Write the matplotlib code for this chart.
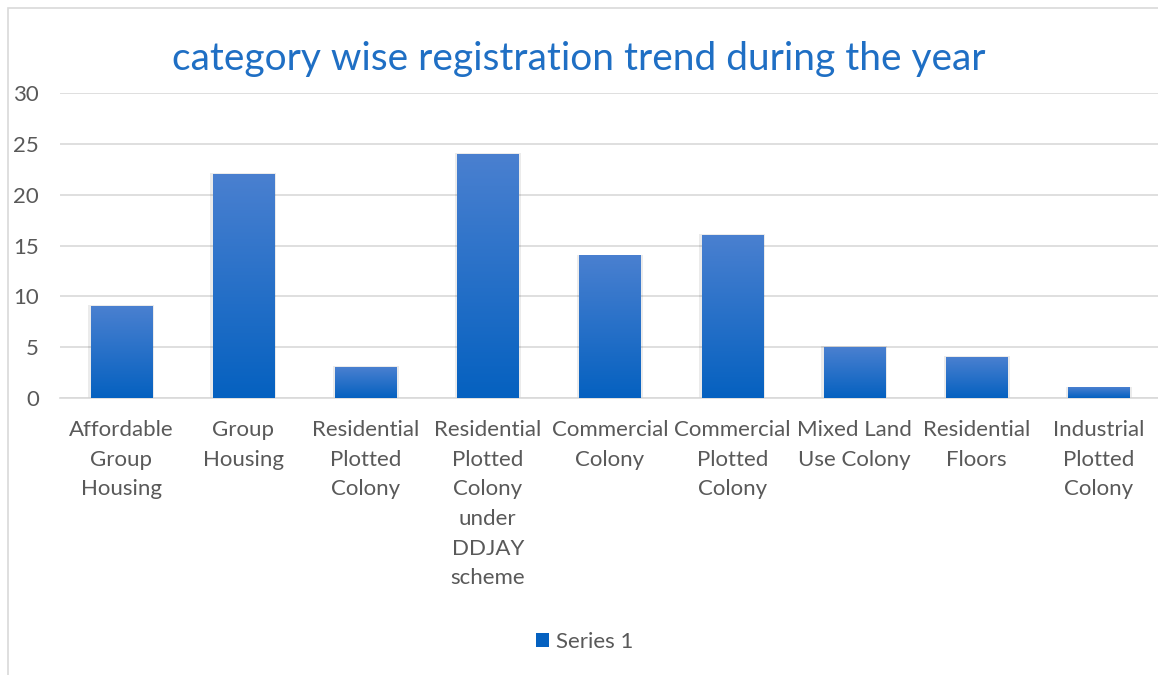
import numpy as np
import matplotlib.pyplot as plt
from matplotlib.patches import Rectangle
from matplotlib.colors import LinearSegmentedColormap

# data
categories = ["Affordable\nGroup\nHousing", "Group\nHousing", "Residential\nPlotted\nColony",
              "Residential\nPlotted\nColony\nunder\nDDJAY\nscheme", "Commercial\nColony",
              "Commercial\nPlotted\nColony", "Mixed Land\nUse Colony", "Residential\nFloors",
              "Industrial\nPlotted\nColony"]
values = [9, 22, 3, 24, 14, 16, 5, 4, 1]
yticks = [0, 5, 10, 15, 20, 25, 30]

plt.rcParams['font.family'] = ['Lato', 'DejaVu Sans']

fig = plt.figure(figsize=(11.58, 6.75), dpi=100)
fig.add_artist(Rectangle((8 / 1158, -0.01), 1.02, 1 - 8 / 675 + 0.01, transform=fig.transFigure,
                         fill=False, edgecolor='#D9D9D9', linewidth=1.2))

ax = fig.add_axes([60 / 1158, 1 - 398 / 675, 1100 / 1158, 305 / 675])

cmap = LinearSegmentedColormap.from_list('bar', ['#0561C0', '#4A80D0'])
grad = np.linspace(0, 1, 256).reshape(-1, 1)
width = 0.5
for i, v in enumerate(values):
    # soft shadow
    ax.add_patch(Rectangle((i - width / 2 - 0.02, 0), width + 0.04, v + 0.1, facecolor='#000000',
                           alpha=0.08, edgecolor='none', zorder=2))
    ax.imshow(grad, extent=(i - width / 2, i + width / 2, 0, v), origin='lower', cmap=cmap,
              aspect='auto', zorder=3)
ax.set_xlim(-0.5, len(values) - 0.5)
ax.set_ylim(0, 30)

# legend proxy
bars = ax.bar([0], [0], width=0, color='#0561C0', label='Series 1')

ax.set_yticks(yticks)
ax.set_xticks(range(len(categories)))
ax.set_xticklabels(categories, fontsize=16, color='#595959', linespacing=1.6, va='top')
ax.tick_params(axis='y', labelsize=16, labelcolor='#595959', length=0, pad=15)
ax.tick_params(axis='x', length=0, pad=16)
ax.grid(axis='y', color='#D9D9D9', linewidth=1.2, zorder=0)
ax.set_axisbelow(True)
for s in ['top', 'right', 'left']:
    ax.spines[s].set_visible(False)
ax.spines['bottom'].set_color('#D9D9D9')
ax.spines['bottom'].set_linewidth(1.2)

fig.text(0.5, 1 - 59 / 675, 'category wise registration trend during the year', ha='center', va='center',
         fontsize=28, color='#1F6FC4')

fig.legend(handles=[bars], loc='center', bbox_to_anchor=(0.505, 1 - 642 / 675), frameon=False,
           fontsize=16, labelcolor='#595959', handlelength=0.6, handleheight=0.6, handletextpad=0.3)

fig.savefig('out.png', dpi=100)
